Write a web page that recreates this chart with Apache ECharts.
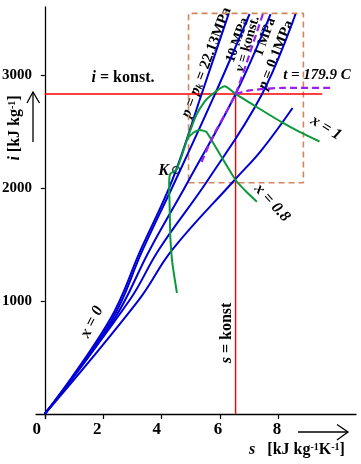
<!DOCTYPE html>
<html><head><meta charset="utf-8">
<script src="https://cdn.jsdelivr.net/npm/echarts@6/dist/echarts.min.js"></script>
<style>html,body{margin:0;padding:0;background:#fff}#c{width:361px;height:464px}</style>
</head><body><div id="c"></div>
<script>
// axis ticks
const sTicks = [0, 2, 4, 6, 8];
const iTicks = [1000, 2000, 3000];

// isobars: s [kJ kg-1 K-1], i [kJ kg-1]
const pCritS = [0, 2.222, 3.282, 4.366, 5.357, 6.291];
const pCritI = [0, 831, 1451, 2070, 2822, 3538];
const p10S = [0, 2.291, 3.350, 4.479, 5.812, 7.009];
const p10I = [0, 831, 1451, 2070, 2822, 3538];
const p1S = [0, 2.359, 3.590, 4.933, 6.530, 7.726];
const p1I = [0, 831, 1451, 2070, 2831, 3538];
const p01S = [0, 2.906, 3.897, 5.583, 7.419, 8.581];
const p01I = [0, 1008, 1451, 2070, 2822, 3538];
const pLowS = [0, 3.214, 4.359, 6.496, 7.419, 8.479];
const pLowI = [0, 1008, 1451, 2070, 2335, 2707];

// saturation curve (x = 0 / x = 1) through K
const satS = [4.523, 4.366, 4.297, 4.274, 4.256, 4.291, 4.496, 4.673, 4.899, 5.186, 5.470, 5.699, 6.154, 6.530, 7.009, 8.092, 8.718, 9.402];
const satI = [1070, 1336, 1566, 1831, 2026, 2123, 2158, 2273, 2450, 2645, 2763, 2822, 2899, 2831, 2754, 2583, 2495, 2410];
// x = 0.8
const x08S = [4.872, 5.094, 5.299, 5.528, 5.744, 6.051, 6.554, 6.940, 7.258];
const x08I = [2437, 2490, 2512, 2497, 2406, 2273, 2061, 1955, 1878];
// v = konst.
const vS = [7.463, 7.009, 6.530, 6.154, 5.812, 5.573, 5.367];
const vI = [3538, 3184, 2831, 2645, 2486, 2353, 2229];
// t = 179.9 C
const tS = [6.530, 7.009, 8.137, 9.812];
const tI = [2831, 2862, 2884, 2884];
// critical point K
const kS = [4.496];
const kI = [2158];
// i = konst., s = konst.
const iConstVal = 2831;
const iConstS = [0, 9.49];
const sConstVal = 6.53;
const sConstI = [0, 2831];
// zoom rectangle
const rectS = [4.92, 8.85];
const rectI = [2046, 3544];

const SERIF = '"Liberation Serif", "Times New Roman", serif';
const zip = (a, b) => a.map((v, k) => [v, b[k]]);
function ln(s, i, color, width, dash, smooth) {
  return { type: 'line', data: zip(s, i), showSymbol: false, symbol: 'none', smooth: smooth || 0,
    silent: true, lineStyle: { color: color, width: width, type: dash || 'solid' } };
}
const BLUE = '#0000d4', GREEN = '#0a9a3a', PURPLE = '#9b1ff0', RED = '#ff0000', ORANGE = '#d4845a';

const series = [
  ln([rectS[0], rectS[1], rectS[1], rectS[0], rectS[0]], [rectI[0], rectI[0], rectI[1], rectI[1], rectI[0]], ORANGE, 1.6, [6, 4]),
  ln(iConstS, [iConstVal, iConstVal], RED, 1.4),
  ln([sConstVal, sConstVal], sConstI, RED, 1.4),
  ln(pCritS, pCritI, BLUE, 2, null, 0.4),
  ln(p10S, p10I, BLUE, 2, null, 0.4),
  ln(p1S, p1I, BLUE, 2, null, 0.4),
  ln(p01S, p01I, BLUE, 2, null, 0.4),
  ln(pLowS, pLowI, BLUE, 2, null, 0.4),
  ln(satS, satI, GREEN, 2, null, 0.2),
  ln(x08S, x08I, GREEN, 2, null, 0.15),
  ln(vS, vI, PURPLE, 2.2, [7, 4], 0.2),
  ln(tS, tI, PURPLE, 2.2, [7, 4], 0.3),
  { type: 'scatter', data: zip(kS, kI), symbol: 'circle', symbolSize: 7, silent: true,
    itemStyle: { color: '#fff', borderColor: '#111', borderWidth: 1.6 } }
];

const f = (w, size, it) => (it ? 'italic ' : '') + w + ' ' + size + 'px ' + SERIF;
function txt(x, y, deg, text, rich, font) {
  return { type: 'text', x: x, y: y, rotation: deg * Math.PI / 180, silent: true,
    style: { text: text, rich: rich || {}, font: font, fill: '#000', align: 'center', verticalAlign: 'middle' } };
}
const R16 = { it: { font: f('bold', 16, true) }, b: { font: f('bold', 16) } };
const R15 = { it: { font: f('bold', 15, true) }, b: { font: f('bold', 15) }, sub: { font: f('bold', 10, true), verticalAlign: 'bottom' } };
const R14 = { it: { font: f('bold', 14, true) }, b: { font: f('bold', 14) } };
const RAX = { it: { font: f('bold', 16, true) }, b: { font: f('bold', 16) }, sup: { font: f('bold', 10), verticalAlign: 'top' } };

const graphic = [
  txt(123, 78, 0, '{it|i}{b| = konst.}', R16, f('bold', 16)),
  txt(317, 75, 0, 't = 179.9 C', null, f('bold', 15, true)),
  txt(326, 128, -32, 'x = 1', null, f('bold', 16, true)),
  txt(272, 203, -48, 'x = 0.8', null, f('bold', 16, true)),
  txt(92, 322, 63, 'x = 0', null, f('bold', 16, true)),
  txt(163.5, 171, 0, 'K', null, f('bold', 16, true)),
  txt(206.5, 62.5, 69, '{it|p}{b| = }{it|p}{sub|k}{b| = 22.13MPa}', R15, f('bold', 15)),
  txt(237.5, 40, 71, '10 MPa', null, f('bold', 14)),
  txt(247.5, 44, 74, '{it|v}{b| = konst.}', R14, f('bold', 14)),
  txt(265, 37, 70, '1 MPa', null, f('bold', 14)),
  txt(276, 55, 68, '{it|p}{b| = 0.1MPa}', R15, f('bold', 15)),
  txt(227, 333, 90, '{it|s}{b| = konst}', R16, f('bold', 16)),
  txt(15, 128, 90, '{it|i}{b| [kJ kg}{sup|-1}{b|]}', RAX, f('bold', 16)),
  txt(297, 450, 0, '{it|s}{b|   [kJ kg}{sup|-1}{b|K}{sup|-1}{b|]}', RAX, f('bold', 16)),
  { type: 'polyline', silent: true, shape: { points: [[33, 142], [33, 92]] }, style: { stroke: '#000', lineWidth: 1.3, fill: null } },
  { type: 'polyline', silent: true, shape: { points: [[27, 103], [33, 92], [39.5, 103]] }, style: { stroke: '#000', lineWidth: 1.3, fill: null } },
  { type: 'polyline', silent: true, shape: { points: [[298, 432], [348, 432]] }, style: { stroke: '#000', lineWidth: 1.3, fill: null } },
  { type: 'polyline', silent: true, shape: { points: [[337, 424.5], [348, 432], [337, 440]] }, style: { stroke: '#000', lineWidth: 1.3, fill: null } }
];

const xPad = { 0: 16, 2: 12, 4: 10, 6: 4, 8: 3 };
const xRich = {};
sTicks.forEach(v => { xRich['p' + v] = { fontFamily: SERIF, fontWeight: 'bold', fontSize: 17, color: '#000', padding: [0, xPad[v] || 0, 0, 0] }; });

const option = {
  animation: false,
  grid: { left: 36, right: 5, top: 7, bottom: 45.5, outerBoundsMode: 'none', containLabel: false },
  xAxis: {
    type: 'value', min: -0.3, max: 10.65, splitLine: { show: false },
    axisLine: { onZero: true, lineStyle: { color: '#000', width: 1.3 } },
    axisTick: { show: true, length: 5, customValues: sTicks, lineStyle: { color: '#000', width: 1.2 } },
    axisLabel: { customValues: sTicks, margin: 3, color: '#000', fontFamily: SERIF, fontWeight: 'bold', fontSize: 17,
      formatter: v => '{p' + v + '|' + v + '}', rich: xRich }
  },
  yAxis: {
    type: 'value', min: -40, max: 3600, splitLine: { show: false },
    axisLine: { show: true, onZero: true, lineStyle: { color: '#000', width: 1.3 } },
    axisTick: { show: true, length: 4, customValues: iTicks, lineStyle: { color: '#000', width: 1.2 } },
    axisLabel: { customValues: iTicks, margin: 4, color: '#000', fontFamily: SERIF, fontWeight: 'bold', fontSize: 15,
      formatter: v => String(v) }
  },
  series: series,
  graphic: graphic
};
const chart = echarts.init(document.getElementById('c'), null, { renderer: 'canvas' });
chart.setOption(option);
</script></body></html>
